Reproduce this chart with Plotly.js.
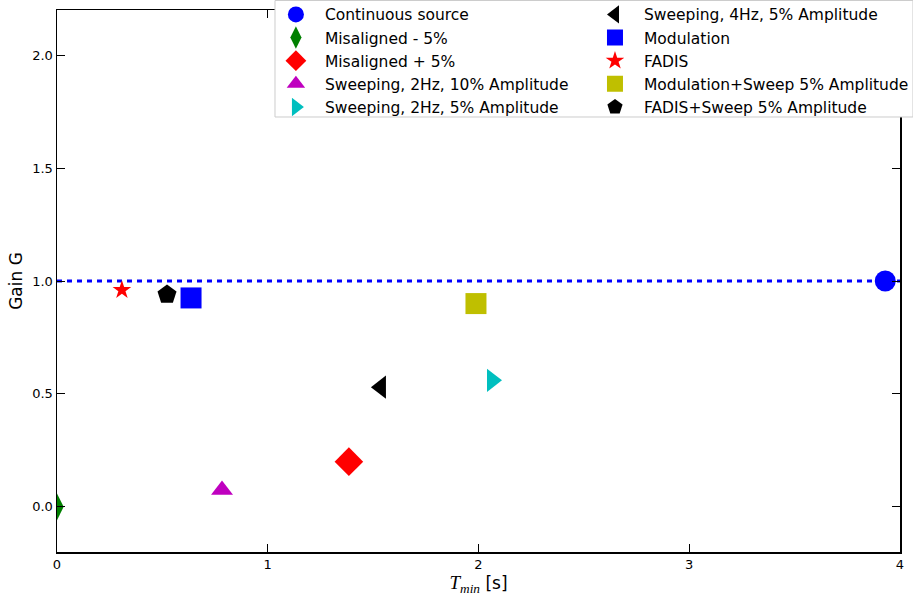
<!DOCTYPE html>
<html>
<head>
<meta charset="utf-8">
<script src="https://cdn.plot.ly/plotly-3.0.1.min.js"></script>
<style>html,body{margin:0;padding:0;background:#fff;}#chart{width:913px;height:599px;}</style>
</head>
<body>
<div id="chart"></div>
<script>
// Series names (legend order: column 1 then column 2)
const names = [
  'Continuous source', 'Misaligned - 5%', 'Misaligned + 5%',
  'Sweeping, 2Hz, 10% Amplitude', 'Sweeping, 2Hz, 5% Amplitude',
  'Sweeping, 4Hz, 5% Amplitude', 'Modulation', 'FADIS',
  'Modulation+Sweep 5% Amplitude', 'FADIS+Sweep 5% Amplitude'
];
// T_min [s]
const tMin = [3.93, 0.0, 1.385, 0.783, 2.064, 1.537, 0.636, 0.308, 1.988, 0.522];
// Gain G
const gain = [1.0, 0.0, 0.20, 0.075, 0.56, 0.53, 0.925, 0.96, 0.90, 0.94];
// Reference line (gain = 1)
const refX = [0, 4];
const refY = [1, 1];

const symbols = ['circle', 'diamond-tall', 'diamond', 'triangle-up', 'triangle-right',
                 'triangle-left', 'square', 'star', 'square', 'pentagon'];
const colors = ['#0000ff', '#008000', '#ff0000', '#bf00bf', '#00bfbf',
                '#000000', '#0000ff', '#ff0000', '#bfbf00', '#000000'];
const sizes = [21, 19, 22, 19, 20, 20, 21, 14, 21, 20];

const traces = [{
  x: refX, y: refY, mode: 'lines', showlegend: false, hoverinfo: 'skip',
  line: {color: '#0000ff', width: 3, dash: '5px,5px'}
}];
names.forEach((n, i) => {
  traces.push({
    x: [tMin[i]], y: [gain[i]], mode: 'markers', name: n,
    legend: i < 5 ? 'legend' : 'legend2',
    marker: {symbol: symbols[i], color: colors[i], size: sizes[i], line: {width: 0}}
  });
});

const font = {family: 'DejaVu Sans, sans-serif', color: '#000'};
const axisCommon = {
  showgrid: false, zeroline: false, showline: true, linecolor: '#000', linewidth: 1.5,
  mirror: 'allticks', ticks: 'inside', ticklen: 8, tickwidth: 1, tickcolor: '#000',
  tickfont: {family: 'DejaVu Sans, sans-serif', size: 13, color: '#000'}
};

const legendCommon = {
  bgcolor: 'rgba(0,0,0,0)', borderwidth: 0, xanchor: 'left', yanchor: 'top',
  font: {family: 'DejaVu Sans, sans-serif', size: 15.5, color: '#000'},
  tracegroupgap: 0, itemwidth: 48
};

const layout = {
  width: 913, height: 599,
  margin: {l: 57, r: 13, t: 10, b: 47, autoexpand: false},
  paper_bgcolor: '#fff', plot_bgcolor: '#fff',
  font: font,
  showlegend: true,
  xaxis: Object.assign({}, axisCommon, {
    range: [0, 4], dtick: 1, tick0: 0,
    title: {text: "<span style=\"font-family:'Liberation Serif', serif;font-size:19px\"><i>T</i><sub><i>min</i></sub></span> [s]",
            font: {family: 'DejaVu Sans, sans-serif', size: 17, color: '#000'}, standoff: 4}
  }),
  yaxis: Object.assign({}, axisCommon, {
    range: [-0.2, 2.2], dtick: 0.5, tick0: 0, tickformat: '.1f',
    title: {text: 'Gain G', font: {family: 'DejaVu Sans, sans-serif', size: 17, color: '#000'}, standoff: 5}
  }),
  legend: Object.assign({}, legendCommon, {x: 0.249, y: 1.0225}),
  legend2: Object.assign({}, legendCommon, {x: 0.6275, y: 1.0225}),
  shapes: [{
    type: 'rect', xref: 'paper', yref: 'paper', layer: 'above',
    x0: 0.2586, x1: 1.0154, y0: 0.8026, y1: 1.0175,
    fillcolor: '#ffffff', line: {color: '#cccccc', width: 1}
  }]
};

Plotly.newPlot('chart', traces, layout, {displayModeBar: false, staticPlot: true});
</script>
</body>
</html>
